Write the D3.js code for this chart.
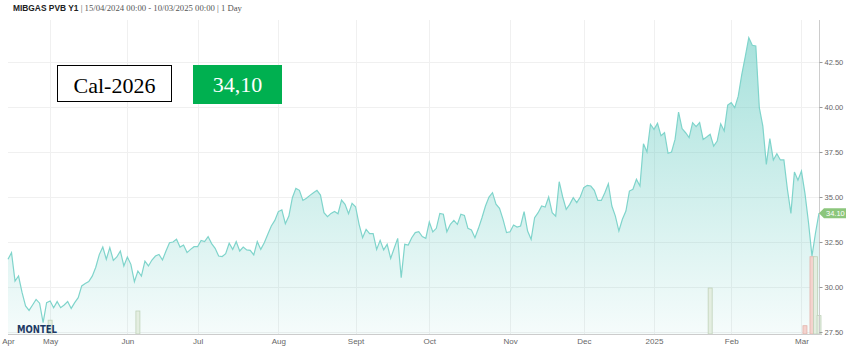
<!DOCTYPE html>
<html>
<head>
<meta charset="utf-8">
<script src="https://cdn.jsdelivr.net/npm/d3@7"></script>
<style>
    body { margin: 0; background: #fff; }
    svg { display: block; font-family: "Liberation Sans", Arial, sans-serif; }
</style>
</head>
<body>
<div id="chart"></div>
<script>
// daily closes, one per trading day (15/04/2024 .. 10/03/2025)
const prices = [
    31.54, 31.91, 30.33, 30.61, 29.70, 28.95, 28.70, 29.00, 29.31, 29.10,
    28.02, 29.13, 29.22, 28.85, 29.19, 28.85, 29.00, 29.19, 28.81, 29.13,
    29.41, 30.06, 30.19, 30.30, 30.60, 31.10, 31.80, 32.22, 31.54, 32.19,
    31.48, 31.67, 32.00, 31.17, 31.67, 31.26, 30.30, 30.89, 30.61, 31.44,
    31.17, 31.50, 31.72, 31.81, 31.50, 32.00, 32.46, 32.50, 32.65, 32.22,
    32.33, 31.91, 32.09, 32.24, 32.24, 32.59, 32.52, 32.80, 32.41, 32.15,
    31.72, 31.69, 31.85, 32.43, 32.09, 32.52, 32.00, 32.22, 32.06, 32.04,
    31.78, 32.52, 32.09, 32.46, 32.93, 33.39, 33.70, 34.19, 34.28, 33.52,
    33.94, 34.96, 35.48, 35.37, 34.81, 34.93, 35.09, 35.24, 35.37, 35.11,
    34.13, 33.91, 34.09, 34.20, 34.07, 34.83, 34.59, 34.07, 34.65, 34.46,
    33.48, 32.74, 33.20, 32.96, 32.96, 32.09, 32.59, 32.06, 32.37, 31.59,
    32.15, 32.70, 30.52, 32.37, 32.33, 32.74, 33.02, 33.07, 32.80, 32.70,
    33.61, 33.06, 33.26, 34.09, 34.04, 33.07, 33.48, 33.70, 33.48, 34.04,
    33.98, 33.26, 33.17, 32.74, 33.26, 33.85, 34.50, 35.00, 35.24, 34.60,
    34.37, 33.76, 33.02, 33.07, 33.44, 33.33, 33.39, 34.19, 33.11, 32.65,
    33.85, 34.13, 34.50, 34.44, 35.00, 34.13, 33.94, 35.85, 35.00, 34.31,
    34.59, 34.96, 34.69, 35.00, 35.52, 35.65, 35.61, 35.37, 34.81, 34.81,
    35.24, 35.74, 34.50, 33.94, 33.11, 33.76, 34.22, 35.33, 35.43, 35.98,
    35.61, 37.96, 37.50, 39.04, 38.76, 39.09, 38.40, 38.57, 37.43, 37.50,
    38.20, 39.72, 38.80, 38.57, 38.30, 39.13, 38.91, 39.13, 38.20, 38.33,
    38.48, 37.83, 38.11, 39.07, 38.67, 40.11, 40.24, 39.96, 40.60, 41.80,
    42.80, 43.85, 43.43, 43.39, 39.96, 38.94, 36.81, 38.24, 37.06, 37.41,
    37.06, 37.06, 35.43, 34.09, 36.39, 35.93, 36.44, 35.20, 33.60, 31.72,
    33.00, 34.10
];
const startDate = "2024-04-15";
const endDate = "2025-03-10";
const holidays = ["2024-05-01", "2024-12-25", "2024-12-26", "2025-01-01"];
const monthLabels = ["Apr", "May", "Jun", "Jul", "Aug", "Sept", "Oct", "Nov", "Dec", "2025", "Feb", "Mar"];
const yTicks = [27.5, 30, 32.5, 35, 37.5, 40, 42.5];

// volume bars
const volumeDates = ["2024-05-02", "2024-06-06", "2025-01-24", "2025-03-04", "2025-03-06", "2025-03-07", "2025-03-10"];
const volumes = [15, 25, 50, 9, 84, 84, 20];
const volumeUp = [true, true, true, false, false, true, true];

const lastLabel = "34.10";
const boxLabel = "Cal-2026";
const boxValue = "34,10";

const width = 851, height = 352;
const margin = { left: 8, right: 32, top: 20, bottom: 18 };
const plotRight = width - margin.right;
const plotBottom = height - margin.bottom;

const parse = d3.timeParse("%Y-%m-%d");
const fmt = d3.timeFormat("%Y-%m-%d");

// ordinal (trading day) axis: weekdays minus exchange holidays
const dates = d3.timeDay.range(parse(startDate), d3.timeDay.offset(parse(endDate), 1))
    .filter(d => d.getDay() !== 0 && d.getDay() !== 6 && !holidays.includes(fmt(d)));
const n = Math.min(dates.length, prices.length);
const series = prices.slice(0, n);
const indexOf = {};
dates.forEach((d, i) => indexOf[fmt(d)] = i);
const monthStarts = dates.map((d, i) => i)
    .filter(i => i === 0 || dates[i].getMonth() !== dates[i - 1].getMonth());

const svg = d3.select("#chart")
    .append("svg")
    .attr("width", width)
    .attr("height", height);

const x = d3.scaleLinear()
    .domain([0, n - 1])
    .range([margin.left, plotRight]);

const y = d3.scaleLinear()
    .domain([27.5, 42.5])
    .range([plotBottom - 2, 62]);

const vy = d3.scaleLinear()
    .domain([0, 100])
    .range([plotBottom, plotBottom - 92]);

// gradient for the area
const defs = svg.append("defs");
const grad = defs.append("linearGradient")
    .attr("id", "areaFill")
    .attr("x1", 0).attr("y1", 0).attr("x2", 0).attr("y2", 1);
grad.append("stop").attr("offset", "0%").attr("stop-color", "#5fc9bf").attr("stop-opacity", 0.55);
grad.append("stop").attr("offset", "100%").attr("stop-color", "#5fc9bf").attr("stop-opacity", 0.06);

// grid
svg.append("g")
    .selectAll("line")
    .data(yTicks)
    .enter()
    .append("line")
    .attr("x1", margin.left).attr("x2", plotRight)
    .attr("y1", d => Math.round(y(d)) + 0.5).attr("y2", d => Math.round(y(d)) + 0.5)
    .attr("stroke", "#f0f0f0");

svg.append("g")
    .selectAll("line")
    .data(monthStarts.slice(1))
    .enter()
    .append("line")
    .attr("x1", d => Math.round(x(d)) + 0.5).attr("x2", d => Math.round(x(d)) + 0.5)
    .attr("y1", margin.top).attr("y2", plotBottom)
    .attr("stroke", "#f0f0f0");

// area + line
svg.append("path")
    .datum(series)
    .attr("fill", "url(#areaFill)")
    .attr("d", d3.area()
        .x((d, i) => x(i))
        .y0(plotBottom)
        .y1(d => y(d)));

svg.append("path")
    .datum(series)
    .attr("fill", "none")
    .attr("stroke", "#7fd4cb")
    .attr("stroke-width", 1.2)
    .attr("d", d3.line()
        .x((d, i) => x(i))
        .y(d => y(d)));

// volume
svg.append("g")
    .selectAll("rect")
    .data(volumeDates.map((d, i) => ({ i: indexOf[d], v: volumes[i], up: volumeUp[i] })))
    .enter()
    .append("rect")
    .attr("x", d => x(d.i) - 2)
    .attr("y", d => vy(d.v))
    .attr("width", 4)
    .attr("height", d => plotBottom - vy(d.v))
    .attr("fill", d => d.up ? "#e4eee1" : "#f4d3ce")
    .attr("stroke", d => d.up ? "#bfd2b9" : "#e2b3ab")
    .attr("stroke-width", 0.8);

// bottom axis
svg.append("line")
    .attr("x1", margin.left).attr("x2", plotRight + 3)
    .attr("y1", plotBottom + 0.5).attr("y2", plotBottom + 0.5)
    .attr("stroke", "#cccccc");

const xAxis = svg.append("g")
    .attr("transform", `translate(0, ${plotBottom})`)
    .call(d3.axisBottom(x)
        .tickValues(monthStarts)
        .tickFormat((t, i) => monthLabels[i])
        .tickSize(0)
        .tickPadding(4));
xAxis.select("path.domain").remove();
xAxis.selectAll("text")
    .attr("fill", "#666")
    .style("font-size", "8px")
    .style("font-family", "Liberation Sans, Arial, sans-serif");

// right axis
const yAxis = svg.append("g")
    .attr("transform", `translate(${plotRight + 0.5}, 0)`)
    .call(d3.axisRight(y)
        .tickValues(yTicks)
        .tickFormat(d3.format(".2f"))
        .tickSize(3)
        .tickPadding(2));
yAxis.select("path.domain")
    .attr("d", `M0,${margin.top}V${plotBottom}`)
    .attr("stroke", "#cccccc");
yAxis.selectAll(".tick line").attr("stroke", "#999");
yAxis.selectAll("text")
    .attr("fill", "#666")
    .style("font-size", "7.5px")
    .style("font-family", "Liberation Sans, Arial, sans-serif");

// last value flag
const ly = y(series[n - 1]);
svg.append("path")
    .attr("d", `M${plotRight},${ly} L${plotRight + 5},${ly - 5} H${width - 5} V${ly + 5} H${plotRight + 5} Z`)
    .attr("fill", "#8cc67c");
svg.append("text")
    .attr("x", plotRight + 7)
    .attr("y", ly + 2.7)
    .attr("fill", "#fff")
    .style("font-size", "7.5px")
    .text(lastLabel);

// logo
svg.append("text")
    .attr("x", 17)
    .attr("y", plotBottom - 1)
    .attr("fill", "#1d3a64")
    .attr("textLength", 40)
    .attr("lengthAdjust", "spacingAndGlyphs")
    .style("font-family", "DejaVu Sans, sans-serif")
    .style("font-weight", "bold")
    .style("font-size", "10.5px")
    .text("MONTEL");

// title
const title = svg.append("text")
    .attr("x", 13)
    .attr("y", 11)
    .style("font-size", "8.4px");
title.append("tspan")
    .style("font-weight", "bold")
    .attr("fill", "#222")
    .text("MIBGAS PVB Y1");
title.append("tspan")
    .attr("fill", "#555")
    .style("font-family", "Liberation Serif, serif")
    .style("font-size", "8.7px")
    .text(" | 15/04/2024 00:00 - 10/03/2025 00:00 | 1 Day");

// annotation boxes
svg.append("rect")
    .attr("x", 57.5).attr("y", 65.5)
    .attr("width", 114).attr("height", 36)
    .attr("fill", "#fff")
    .attr("stroke", "#000");
svg.append("text")
    .attr("x", 114.5).attr("y", 93)
    .attr("text-anchor", "middle")
    .attr("fill", "#000")
    .style("font-family", "Liberation Serif, serif")
    .style("font-size", "22px")
    .text(boxLabel);

svg.append("rect")
    .attr("x", 193).attr("y", 65)
    .attr("width", 89).attr("height", 39)
    .attr("fill", "#00b050");
svg.append("text")
    .attr("x", 237.5).attr("y", 91.5)
    .attr("text-anchor", "middle")
    .attr("fill", "#fff")
    .style("font-family", "Liberation Serif, serif")
    .style("font-size", "22px")
    .text(boxValue);
</script>
</body>
</html>
